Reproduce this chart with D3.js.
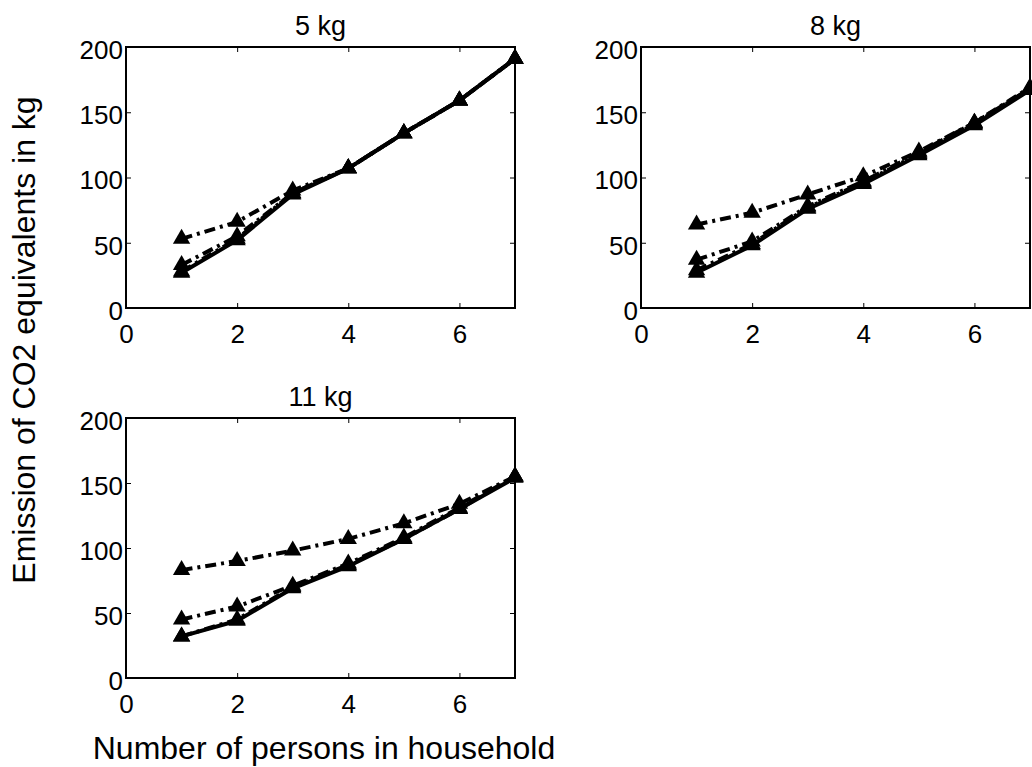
<!DOCTYPE html>
<html lang="en">
<head>
    <meta charset="UTF-8">
    <title>Emission of CO2 equivalents by household size</title>
    <script src="https://cdnjs.cloudflare.com/ajax/libs/d3/7.8.5/d3.min.js"></script>
    <style>
        html, body {
            margin: 0;
            padding: 0;
            background: #fff;
        }
        svg text {
            font-family: "Liberation Sans", Arial, Helvetica, sans-serif;
            fill: #000;
        }
        .tick text { font-size: 26px; }
        .title { font-size: 27px; text-anchor: middle; }
        .axis-label { font-size: 32px; text-anchor: middle; }
        .frame { fill: none; stroke: #000; stroke-width: 2px; }
        .tick line { stroke: #000; stroke-width: 1px; }
        .domain { display: none; }
    </style>
</head>
<body>
    <div id="chart"></div>
    <script>
        // values
        const panelTitles = ["5 kg", "8 kg", "11 kg"];
        const persons = [1, 2, 3, 4, 5, 6, 7];
        const xTicks = [0, 2, 4, 6];
        const yTicks = [0, 50, 100, 150, 200];

        const kg5 = [
            [53, 66, 90, 107, 134, 159, 191],
            [33, 55, 88, 107, 134, 159, 191],
            [28, 53, 88, 107, 134, 159, 191],
            [27, 52, 87, 107, 134, 159, 191]
        ];
        const kg8 = [
            [64, 73, 87, 101, 120, 142, 169],
            [37, 51, 78, 97, 119, 142, 168],
            [29, 49, 77, 96, 118, 141, 168],
            [27, 48, 76, 95, 117, 140, 167]
        ];
        const kg11 = [
            [83, 90, 98, 107, 119, 134, 155],
            [45, 55, 71, 88, 108, 131, 155],
            [32, 45, 70, 87, 107, 130, 155],
            [32, 44, 69, 86, 107, 130, 154]
        ];

        const panelData = [kg5, kg8, kg11];
        // last series is the solid one, the others are dash-dot
        const dashes = ["11,5,3,5", "11,5,3,5", "11,5,3,5", null];

        const width = 1032, height = 767;
        const boxes = [
            { left: 126, top: 47, w: 389, h: 261 },
            { left: 641, top: 47, w: 389, h: 261 },
            { left: 126, top: 418, w: 389, h: 260 }
        ];

        const svg = d3.select("#chart").append("svg")
            .attr("width", width)
            .attr("height", height);

        panelData.forEach((series, i) => {
            const b = boxes[i];
            const g = svg.append("g").attr("transform", `translate(${b.left},${b.top})`);

            const x = d3.scaleLinear().domain([0, 7]).range([0, b.w]);
            const y = d3.scaleLinear().domain([0, 200]).range([b.h, 0]);

            const xAxis = g.append("g")
                .attr("transform", `translate(0,${b.h})`)
                .call(d3.axisBottom(x).tickValues(xTicks).tickFormat(d3.format("d"))
                    .tickSize(-5).tickPadding(17));
            xAxis.selectAll("text").attr("dy", "0.71em");

            const yAxis = g.append("g")
                .call(d3.axisLeft(y).tickValues(yTicks).tickFormat(d3.format("d"))
                    .tickSize(-5).tickPadding(3));
            yAxis.selectAll("text").attr("y", 3);

            g.append("g")
                .call(d3.axisTop(x).tickValues(xTicks).tickSize(-5).tickFormat(""));
            g.append("g")
                .attr("transform", `translate(${b.w},0)`)
                .call(d3.axisRight(y).tickValues(yTicks).tickSize(-5).tickFormat(""));

            g.append("rect")
                .attr("class", "frame")
                .attr("width", b.w)
                .attr("height", b.h);

            const line = d3.line()
                .x((d, j) => x(persons[j]))
                .y(d => y(d));

            series.forEach((vals, k) => {
                g.append("path")
                    .datum(vals)
                    .attr("d", line)
                    .attr("fill", "none")
                    .attr("stroke", "#000")
                    .attr("stroke-width", 4)
                    .attr("stroke-linejoin", "round")
                    .attr("stroke-dasharray", dashes[k]);

                g.append("g")
                    .selectAll("path")
                    .data(vals)
                    .join("path")
                    .attr("d", d3.symbol(d3.symbolTriangle, 130))
                    .attr("transform", (d, j) => `translate(${x(persons[j])},${y(d)})`)
                    .attr("fill", "#000");
            });

            svg.append("text")
                .attr("class", "title")
                .attr("x", b.left + b.w / 2)
                .attr("y", b.top - 12)
                .text(panelTitles[i]);
        });

        svg.append("text")
            .attr("class", "axis-label")
            .attr("transform", "translate(35,340) rotate(-90)")
            .text("Emission of CO2 equivalents in kg");

        svg.append("text")
            .attr("class", "axis-label")
            .attr("x", 324)
            .attr("y", 759)
            .text("Number of persons in household");
    </script>
</body>
</html>
